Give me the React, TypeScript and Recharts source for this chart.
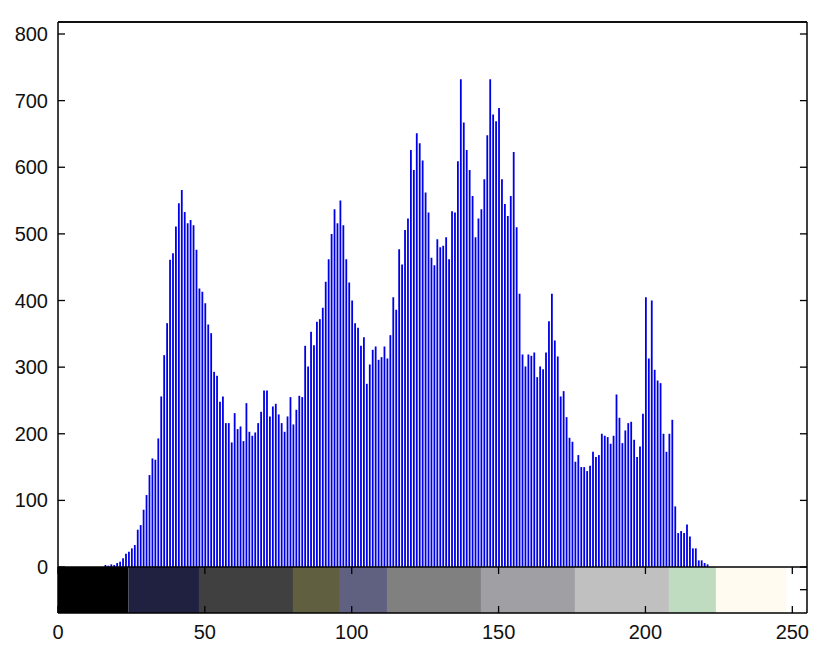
import React from 'react';
import { ComposedChart, Bar, Line, XAxis, YAxis, ReferenceArea, ReferenceLine } from 'recharts';

// histogram counts, bins 0..255
const countsA = [
  0, 0, 0, 0, 0, 0, 0, 0, 0, 0, 0, 0, 0, 0, 0, 0,
  3, 2, 4, 3, 6, 8, 13, 20, 23, 28, 33, 56, 63, 86, 108, 138,
  163, 161, 193, 256, 318, 366, 461, 471, 511, 546, 566, 533, 516, 521, 513, 476,
  418, 413, 396, 364, 351, 293, 287, 248, 256, 216, 216, 187, 231, 207, 211, 189,
];
const countsB = [
  246, 203, 197, 202, 216, 233, 265, 265, 226, 241, 245, 229, 216, 203, 226, 255,
  214, 236, 257, 255, 332, 301, 353, 333, 368, 372, 389, 428, 462, 500, 537, 516,
  550, 513, 462, 427, 400, 366, 359, 332, 345, 275, 304, 326, 331, 311, 315, 331,
  313, 348, 405, 386, 477, 454, 506, 523, 626, 596, 651, 636, 610, 562, 532, 464,
];
const countsC = [
  453, 492, 480, 482, 495, 462, 534, 532, 609, 732, 667, 626, 596, 557, 495, 523,
  537, 582, 648, 732, 679, 669, 689, 582, 545, 527, 557, 623, 510, 410, 319, 301,
  319, 317, 322, 285, 301, 297, 322, 369, 410, 340, 316, 256, 264, 225, 194, 188,
  158, 168, 150, 150, 144, 152, 173, 165, 168, 200, 197, 195, 185, 197, 259, 224,
];
const countsD = [
  186, 205, 216, 218, 191, 165, 181, 230, 405, 313, 400, 296, 280, 276, 200, 173,
  200, 221, 91, 51, 54, 51, 64, 46, 28, 28, 10, 10, 6, 4, 0, 0,
  0, 0, 0, 0, 0, 0, 0, 0, 0, 0, 0, 0, 0, 0, 0, 0,
  0, 0, 0, 0, 0, 0, 0, 0, 0, 0, 0, 0, 0, 0, 0, 0,
];

const xTicks = [0, 50, 100, 150, 200, 250];
const yTicks = [0, 100, 200, 300, 400, 500, 600, 700, 800];
const stripTicks = [-34]; // right-side tick of the colour strip axes

// colour strip under the histogram (colormap of the indexed image)
const colorbarEdges = [0, 24, 48, 80, 96, 112, 144, 176, 208, 224, 248, 255];
const colorbarColors = [
  '#000000', '#202040', '#404040', '#606040', '#606080', '#808080',
  '#a0a0a4', '#c0c0c0', '#c0dcc0', '#fffbf0', '#ffffff',
];

const counts = [...countsA, ...countsB, ...countsC, ...countsD];
const data = counts.map((c, i) => ({ bin: i, count: c }));

const X_MAX = 255;
const Y_MIN = -69;
const Y_MAX = 818;
// inward tick length (~7px) in data units
const TICK_X = 2.4;
const TICK_Y = 10.5;

const font = { fontFamily: '"Liberation Sans", Arial, sans-serif', fontSize: 20, fill: '#111' };
const axisLine = { stroke: '#000', strokeWidth: 1.5 };

export default function App() {
  const ax = { xAxisId: 'bottom', yAxisId: 'left' };
  return (
    <ComposedChart
      width={814}
      height={645}
      data={data}
      margin={{ top: 13, right: 15, bottom: 0, left: 0 }}
    >
      <XAxis
        xAxisId="bottom"
        dataKey="bin"
        type="number"
        domain={[0, X_MAX]}
        ticks={xTicks}
        height={40}
        tickSize={-7}
        tickMargin={19}
        tick={font}
        axisLine={axisLine}
        tickLine={{ stroke: '#000', strokeWidth: 1.3 }}
      />
      <XAxis
        xAxisId="top"
        orientation="top"
        dataKey="bin"
        type="number"
        domain={[0, X_MAX]}
        ticks={xTicks}
        height={1}
        tickSize={-7}
        tick={false}
        axisLine={axisLine}
        tickLine={{ stroke: '#000', strokeWidth: 1.3 }}
      />
      <YAxis
        yAxisId="left"
        type="number"
        domain={[Y_MIN, Y_MAX]}
        ticks={yTicks}
        width={50}
        tickSize={-7}
        tickMargin={17}
        tick={font}
        axisLine={axisLine}
        tickLine={{ stroke: '#000', strokeWidth: 1.3 }}
      />
      {colorbarColors.map((c, i) => (
        <ReferenceArea
          key={i}
          {...ax}
          x1={colorbarEdges[i]}
          x2={colorbarEdges[i + 1]}
          y1={Y_MIN}
          y2={0}
          fill={c}
          fillOpacity={1}
          stroke="none"
        />
      ))}
      <ReferenceLine {...ax} y={0} stroke="#000" strokeWidth={1.5} />
      <ReferenceLine {...ax} y={Y_MAX} stroke="#000" strokeWidth={1.5} />
      <ReferenceLine {...ax} x={X_MAX} stroke="#000" strokeWidth={1.5} />
      {xTicks.map((t) => (
        <ReferenceLine
          key={`strip-${t}`}
          {...ax}
          segment={[{ x: t, y: 0 }, { x: t, y: -TICK_Y }]}
          stroke="#000"
          strokeWidth={1.3}
        />
      ))}
      {[...yTicks, ...stripTicks].map((t) => (
        <ReferenceLine
          key={`right-${t}`}
          {...ax}
          segment={[{ x: X_MAX, y: t }, { x: X_MAX - TICK_X, y: t }]}
          stroke="#000"
          strokeWidth={1.3}
        />
      ))}
      <Bar
        {...ax}
        dataKey="count"
        fill="#0000e6"
        barSize={1.8}
        isAnimationActive={false}
      />
      {/* invisible series so the top axis (with its inward ticks) is drawn */}
      <Line
        xAxisId="top"
        yAxisId="left"
        dataKey="count"
        stroke="none"
        dot={false}
        activeDot={false}
        legendType="none"
        isAnimationActive={false}
      />
    </ComposedChart>
  );
}
